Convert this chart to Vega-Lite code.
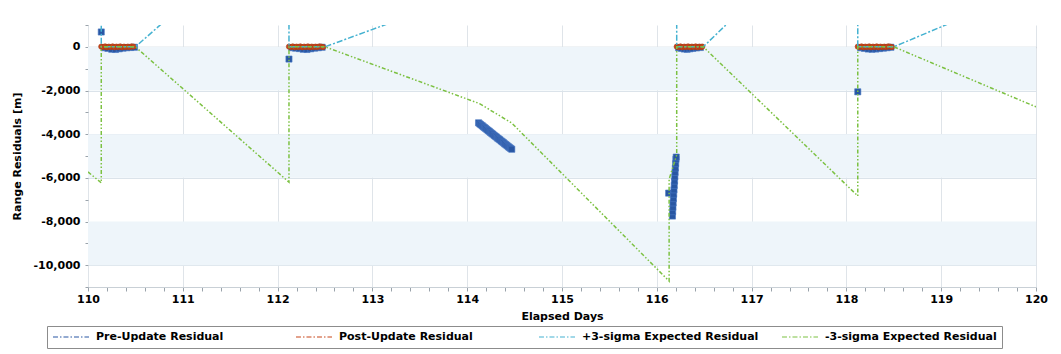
{
  "$schema": "https://vega.github.io/schema/vega-lite/v6.json",
  "width": 948,
  "height": 262,
  "autosize": {"type": "none"},
  "padding": {"left": 88, "top": 25, "right": 25, "bottom": 67},
  "background": "white",
  "config": {
    "view": {"stroke": null},
    "font": "DejaVu Sans",
    "axis": {
      "labelFont": "DejaVu Sans", "labelFontWeight": "bold", "labelFontSize": 11, "labelColor": "#000",
      "titleFont": "DejaVu Sans", "titleFontWeight": "bold", "titleFontSize": 11, "titleColor": "#000",
      "tickColor": "#9aa3ab", "domainColor": "#c9d0d6"
    },
    "legend": {
      "orient": "none", "legendX": -41, "legendY": 301,
      "direction": "horizontal", "columns": 4, "gridAlign": "all", "columnPadding": 22,
      "labelFont": "DejaVu Sans", "labelFontWeight": "bold", "labelFontSize": 11, "labelColor": "#000", "labelLimit": 300, "labelOffset": 6,
      "strokeColor": "#8c8c8c", "padding": 5,
      "symbolStrokeWidth": 1.2, "symbolType": "stroke", "symbolSize": 1300, "symbolDash": [5, 2, 1.5, 2],
      "clipHeight": 12
    }
  },
  "datasets": {
    "bands": [
      {"y": 0, "y2": -2000},
      {"y": -4000, "y2": -6000},
      {"y": -8000, "y2": -10000}
    ],
    "pre": [
      {"x": 110.14, "y": 680, "series": "Pre-Update Residual"},
      {"x": 110.17, "y": -40, "series": "Pre-Update Residual"},
      {"x": 110.21, "y": -70, "series": "Pre-Update Residual"},
      {"x": 110.25, "y": -110, "series": "Pre-Update Residual"},
      {"x": 110.29, "y": -120, "series": "Pre-Update Residual"},
      {"x": 110.33, "y": -90, "series": "Pre-Update Residual"},
      {"x": 110.37, "y": -60, "series": "Pre-Update Residual"},
      {"x": 110.41, "y": -40, "series": "Pre-Update Residual"},
      {"x": 110.45, "y": -30, "series": "Pre-Update Residual"},
      {"x": 110.49, "y": -20, "series": "Pre-Update Residual"},
      {"x": 112.12, "y": -560, "series": "Pre-Update Residual"},
      {"x": 112.15, "y": -40, "series": "Pre-Update Residual"},
      {"x": 112.19, "y": -60, "series": "Pre-Update Residual"},
      {"x": 112.23, "y": -80, "series": "Pre-Update Residual"},
      {"x": 112.27, "y": -110, "series": "Pre-Update Residual"},
      {"x": 112.31, "y": -120, "series": "Pre-Update Residual"},
      {"x": 112.35, "y": -90, "series": "Pre-Update Residual"},
      {"x": 112.39, "y": -60, "series": "Pre-Update Residual"},
      {"x": 112.43, "y": -40, "series": "Pre-Update Residual"},
      {"x": 112.47, "y": -20, "series": "Pre-Update Residual"},
      {"x": 114.12, "y": -3480, "series": "Pre-Update Residual"},
      {"x": 114.133, "y": -3530, "series": "Pre-Update Residual"},
      {"x": 114.145, "y": -3570, "series": "Pre-Update Residual"},
      {"x": 114.158, "y": -3610, "series": "Pre-Update Residual"},
      {"x": 114.17, "y": -3660, "series": "Pre-Update Residual"},
      {"x": 114.183, "y": -3700, "series": "Pre-Update Residual"},
      {"x": 114.195, "y": -3740, "series": "Pre-Update Residual"},
      {"x": 114.208, "y": -3790, "series": "Pre-Update Residual"},
      {"x": 114.22, "y": -3830, "series": "Pre-Update Residual"},
      {"x": 114.233, "y": -3870, "series": "Pre-Update Residual"},
      {"x": 114.245, "y": -3920, "series": "Pre-Update Residual"},
      {"x": 114.258, "y": -3960, "series": "Pre-Update Residual"},
      {"x": 114.27, "y": -4000, "series": "Pre-Update Residual"},
      {"x": 114.283, "y": -4050, "series": "Pre-Update Residual"},
      {"x": 114.295, "y": -4090, "series": "Pre-Update Residual"},
      {"x": 114.308, "y": -4130, "series": "Pre-Update Residual"},
      {"x": 114.32, "y": -4180, "series": "Pre-Update Residual"},
      {"x": 114.333, "y": -4220, "series": "Pre-Update Residual"},
      {"x": 114.345, "y": -4260, "series": "Pre-Update Residual"},
      {"x": 114.358, "y": -4310, "series": "Pre-Update Residual"},
      {"x": 114.37, "y": -4350, "series": "Pre-Update Residual"},
      {"x": 114.383, "y": -4390, "series": "Pre-Update Residual"},
      {"x": 114.395, "y": -4440, "series": "Pre-Update Residual"},
      {"x": 114.408, "y": -4480, "series": "Pre-Update Residual"},
      {"x": 114.42, "y": -4520, "series": "Pre-Update Residual"},
      {"x": 114.433, "y": -4570, "series": "Pre-Update Residual"},
      {"x": 114.445, "y": -4610, "series": "Pre-Update Residual"},
      {"x": 114.458, "y": -4650, "series": "Pre-Update Residual"},
      {"x": 114.47, "y": -4690, "series": "Pre-Update Residual"},
      {"x": 116.125, "y": -6700, "series": "Pre-Update Residual"},
      {"x": 116.165, "y": -7750, "series": "Pre-Update Residual"},
      {"x": 116.167, "y": -7550, "series": "Pre-Update Residual"},
      {"x": 116.17, "y": -7350, "series": "Pre-Update Residual"},
      {"x": 116.172, "y": -7150, "series": "Pre-Update Residual"},
      {"x": 116.175, "y": -6950, "series": "Pre-Update Residual"},
      {"x": 116.178, "y": -6750, "series": "Pre-Update Residual"},
      {"x": 116.181, "y": -6550, "series": "Pre-Update Residual"},
      {"x": 116.184, "y": -6350, "series": "Pre-Update Residual"},
      {"x": 116.187, "y": -6150, "series": "Pre-Update Residual"},
      {"x": 116.19, "y": -5950, "series": "Pre-Update Residual"},
      {"x": 116.193, "y": -5750, "series": "Pre-Update Residual"},
      {"x": 116.196, "y": -5550, "series": "Pre-Update Residual"},
      {"x": 116.199, "y": -5350, "series": "Pre-Update Residual"},
      {"x": 116.202, "y": -5150, "series": "Pre-Update Residual"},
      {"x": 116.205, "y": -5050, "series": "Pre-Update Residual"},
      {"x": 116.23, "y": -40, "series": "Pre-Update Residual"},
      {"x": 116.26, "y": -70, "series": "Pre-Update Residual"},
      {"x": 116.29, "y": -100, "series": "Pre-Update Residual"},
      {"x": 116.32, "y": -110, "series": "Pre-Update Residual"},
      {"x": 116.35, "y": -90, "series": "Pre-Update Residual"},
      {"x": 116.38, "y": -70, "series": "Pre-Update Residual"},
      {"x": 116.42, "y": -50, "series": "Pre-Update Residual"},
      {"x": 116.46, "y": -30, "series": "Pre-Update Residual"},
      {"x": 118.12, "y": -2060, "series": "Pre-Update Residual"},
      {"x": 118.15, "y": -40, "series": "Pre-Update Residual"},
      {"x": 118.19, "y": -70, "series": "Pre-Update Residual"},
      {"x": 118.23, "y": -100, "series": "Pre-Update Residual"},
      {"x": 118.27, "y": -110, "series": "Pre-Update Residual"},
      {"x": 118.31, "y": -100, "series": "Pre-Update Residual"},
      {"x": 118.35, "y": -80, "series": "Pre-Update Residual"},
      {"x": 118.39, "y": -60, "series": "Pre-Update Residual"},
      {"x": 118.43, "y": -40, "series": "Pre-Update Residual"},
      {"x": 118.47, "y": -20, "series": "Pre-Update Residual"}
    ],
    "post": [
      {"x": 110.14, "y": 10, "series": "Post-Update Residual"},
      {"x": 110.16, "y": -10, "series": "Post-Update Residual"},
      {"x": 110.18, "y": 20, "series": "Post-Update Residual"},
      {"x": 110.2, "y": -20, "series": "Post-Update Residual"},
      {"x": 110.22, "y": 10, "series": "Post-Update Residual"},
      {"x": 110.24, "y": -10, "series": "Post-Update Residual"},
      {"x": 110.26, "y": 20, "series": "Post-Update Residual"},
      {"x": 110.28, "y": -20, "series": "Post-Update Residual"},
      {"x": 110.3, "y": 10, "series": "Post-Update Residual"},
      {"x": 110.32, "y": -10, "series": "Post-Update Residual"},
      {"x": 110.34, "y": 20, "series": "Post-Update Residual"},
      {"x": 110.36, "y": -20, "series": "Post-Update Residual"},
      {"x": 110.38, "y": 10, "series": "Post-Update Residual"},
      {"x": 110.4, "y": -10, "series": "Post-Update Residual"},
      {"x": 110.42, "y": 10, "series": "Post-Update Residual"},
      {"x": 110.44, "y": -10, "series": "Post-Update Residual"},
      {"x": 110.46, "y": 20, "series": "Post-Update Residual"},
      {"x": 110.48, "y": 10, "series": "Post-Update Residual"},
      {"x": 112.12, "y": 10, "series": "Post-Update Residual"},
      {"x": 112.14, "y": -10, "series": "Post-Update Residual"},
      {"x": 112.16, "y": 20, "series": "Post-Update Residual"},
      {"x": 112.18, "y": -20, "series": "Post-Update Residual"},
      {"x": 112.2, "y": 10, "series": "Post-Update Residual"},
      {"x": 112.22, "y": -10, "series": "Post-Update Residual"},
      {"x": 112.24, "y": 20, "series": "Post-Update Residual"},
      {"x": 112.26, "y": -20, "series": "Post-Update Residual"},
      {"x": 112.28, "y": 10, "series": "Post-Update Residual"},
      {"x": 112.3, "y": -10, "series": "Post-Update Residual"},
      {"x": 112.32, "y": 20, "series": "Post-Update Residual"},
      {"x": 112.34, "y": -20, "series": "Post-Update Residual"},
      {"x": 112.36, "y": 10, "series": "Post-Update Residual"},
      {"x": 112.38, "y": -10, "series": "Post-Update Residual"},
      {"x": 112.4, "y": 10, "series": "Post-Update Residual"},
      {"x": 112.42, "y": -10, "series": "Post-Update Residual"},
      {"x": 112.44, "y": 20, "series": "Post-Update Residual"},
      {"x": 112.46, "y": 10, "series": "Post-Update Residual"},
      {"x": 112.48, "y": -10, "series": "Post-Update Residual"},
      {"x": 116.21, "y": 10, "series": "Post-Update Residual"},
      {"x": 116.23, "y": -10, "series": "Post-Update Residual"},
      {"x": 116.25, "y": 20, "series": "Post-Update Residual"},
      {"x": 116.27, "y": -20, "series": "Post-Update Residual"},
      {"x": 116.29, "y": 10, "series": "Post-Update Residual"},
      {"x": 116.31, "y": -10, "series": "Post-Update Residual"},
      {"x": 116.33, "y": 20, "series": "Post-Update Residual"},
      {"x": 116.35, "y": -20, "series": "Post-Update Residual"},
      {"x": 116.37, "y": 10, "series": "Post-Update Residual"},
      {"x": 116.39, "y": -10, "series": "Post-Update Residual"},
      {"x": 116.41, "y": 20, "series": "Post-Update Residual"},
      {"x": 116.43, "y": -20, "series": "Post-Update Residual"},
      {"x": 116.45, "y": 10, "series": "Post-Update Residual"},
      {"x": 116.47, "y": -10, "series": "Post-Update Residual"},
      {"x": 116.48, "y": 10, "series": "Post-Update Residual"},
      {"x": 118.12, "y": 10, "series": "Post-Update Residual"},
      {"x": 118.14, "y": -10, "series": "Post-Update Residual"},
      {"x": 118.16, "y": 20, "series": "Post-Update Residual"},
      {"x": 118.18, "y": -20, "series": "Post-Update Residual"},
      {"x": 118.2, "y": 10, "series": "Post-Update Residual"},
      {"x": 118.22, "y": -10, "series": "Post-Update Residual"},
      {"x": 118.24, "y": 20, "series": "Post-Update Residual"},
      {"x": 118.26, "y": -20, "series": "Post-Update Residual"},
      {"x": 118.28, "y": 10, "series": "Post-Update Residual"},
      {"x": 118.3, "y": -10, "series": "Post-Update Residual"},
      {"x": 118.32, "y": 20, "series": "Post-Update Residual"},
      {"x": 118.34, "y": -20, "series": "Post-Update Residual"},
      {"x": 118.36, "y": 10, "series": "Post-Update Residual"},
      {"x": 118.38, "y": -10, "series": "Post-Update Residual"},
      {"x": 118.4, "y": 10, "series": "Post-Update Residual"},
      {"x": 118.42, "y": -10, "series": "Post-Update Residual"},
      {"x": 118.44, "y": 20, "series": "Post-Update Residual"},
      {"x": 118.46, "y": 10, "series": "Post-Update Residual"},
      {"x": 118.48, "y": -10, "series": "Post-Update Residual"}
    ],
    "plus": [
      {"o": 1, "x": 110.0, "y": 5730, "series": "+3-sigma Expected Residual"},
      {"o": 2, "x": 110.14, "y": 6230, "series": "+3-sigma Expected Residual"},
      {"o": 3, "x": 110.14, "y": 0, "series": "+3-sigma Expected Residual"},
      {"o": 4, "x": 110.5, "y": 0, "series": "+3-sigma Expected Residual"},
      {"o": 5, "x": 112.12, "y": 6200, "series": "+3-sigma Expected Residual"},
      {"o": 6, "x": 112.12, "y": 0, "series": "+3-sigma Expected Residual"},
      {"o": 7, "x": 112.5, "y": 0, "series": "+3-sigma Expected Residual"},
      {"o": 8, "x": 114.13, "y": 2600, "series": "+3-sigma Expected Residual"},
      {"o": 9, "x": 114.47, "y": 3490, "series": "+3-sigma Expected Residual"},
      {"o": 10, "x": 116.13, "y": 10730, "series": "+3-sigma Expected Residual"},
      {"o": 11, "x": 116.13, "y": 6060, "series": "+3-sigma Expected Residual"},
      {"o": 12, "x": 116.21, "y": 4950, "series": "+3-sigma Expected Residual"},
      {"o": 13, "x": 116.21, "y": 0, "series": "+3-sigma Expected Residual"},
      {"o": 14, "x": 116.49, "y": 0, "series": "+3-sigma Expected Residual"},
      {"o": 15, "x": 118.12, "y": 6830, "series": "+3-sigma Expected Residual"},
      {"o": 16, "x": 118.12, "y": 0, "series": "+3-sigma Expected Residual"},
      {"o": 17, "x": 118.5, "y": 0, "series": "+3-sigma Expected Residual"},
      {"o": 18, "x": 120.0, "y": 2750, "series": "+3-sigma Expected Residual"}
    ],
    "minus": [
      {"o": 1, "x": 110.0, "y": -5730, "series": "-3-sigma Expected Residual"},
      {"o": 2, "x": 110.14, "y": -6230, "series": "-3-sigma Expected Residual"},
      {"o": 3, "x": 110.14, "y": 0, "series": "-3-sigma Expected Residual"},
      {"o": 4, "x": 110.5, "y": 0, "series": "-3-sigma Expected Residual"},
      {"o": 5, "x": 112.12, "y": -6200, "series": "-3-sigma Expected Residual"},
      {"o": 6, "x": 112.12, "y": 0, "series": "-3-sigma Expected Residual"},
      {"o": 7, "x": 112.5, "y": 0, "series": "-3-sigma Expected Residual"},
      {"o": 8, "x": 114.13, "y": -2600, "series": "-3-sigma Expected Residual"},
      {"o": 9, "x": 114.47, "y": -3490, "series": "-3-sigma Expected Residual"},
      {"o": 10, "x": 116.13, "y": -10730, "series": "-3-sigma Expected Residual"},
      {"o": 11, "x": 116.13, "y": -6060, "series": "-3-sigma Expected Residual"},
      {"o": 12, "x": 116.21, "y": -4950, "series": "-3-sigma Expected Residual"},
      {"o": 13, "x": 116.21, "y": 0, "series": "-3-sigma Expected Residual"},
      {"o": 14, "x": 116.49, "y": 0, "series": "-3-sigma Expected Residual"},
      {"o": 15, "x": 118.12, "y": -6830, "series": "-3-sigma Expected Residual"},
      {"o": 16, "x": 118.12, "y": 0, "series": "-3-sigma Expected Residual"},
      {"o": 17, "x": 118.5, "y": 0, "series": "-3-sigma Expected Residual"},
      {"o": 18, "x": 120.0, "y": -2750, "series": "-3-sigma Expected Residual"}
    ]
  },
  "layer": [
    {
      "data": {"name": "bands"},
      "mark": {"type": "rect", "fill": "#eef5fa"},
      "encoding": {
        "y": {
          "field": "y", "type": "quantitative",
          "scale": {"domain": [-11000, 1000], "nice": false, "zero": false},
          "axis": {
            "title": "Range Residuals [m]",
            "values": [1000, 0, -1000, -2000, -3000, -4000, -5000, -6000, -7000, -8000, -9000, -10000, -11000],
            "tickCount": 200,
            "labelExpr": "datum.value % 2000 === 0 ? replace(format(datum.value, ','), '\u2212', '-') : ''",
            "labelOverlap": false,
            "grid": true,
            "gridColor": {"condition": {"test": "datum.value === 0", "value": "#c3c9cf"}, "value": "#dbe3ea"},
            "gridOpacity": {"condition": {"test": "datum.value % 2000 === 0", "value": 1}, "value": 0},
            "gridWidth": {"condition": {"test": "datum.value === 0", "value": 1.5}, "value": 1},
            "tickSize": 3,
            "labelPadding": 5,
            "domain": false,
            "titleX": -71,
            "titleY": 131,
            "titleAngle": -90,
            "titleBaseline": "middle",
            "titleAlign": "center"
          }
        },
        "y2": {"field": "y2"}
      }
    },
    {
      "data": {"name": "pre"},
      "mark": {"type": "point", "shape": "square", "filled": true, "size": 38, "stroke": "#4a78c4", "strokeWidth": 0.6, "opacity": 1, "clip": true},
      "encoding": {
        "x": {
          "field": "x", "type": "quantitative",
          "scale": {"domain": [110, 120], "nice": false, "zero": false},
          "axis": {
            "title": "Elapsed Days",
            "values": [110, 110.2, 110.4, 110.6, 110.8, 111, 111.2, 111.4, 111.6, 111.8, 112, 112.2, 112.4, 112.6, 112.8, 113, 113.2, 113.4, 113.6, 113.8, 114, 114.2, 114.4, 114.6, 114.8, 115, 115.2, 115.4, 115.6, 115.8, 116, 116.2, 116.4, 116.6, 116.8, 117, 117.2, 117.4, 117.6, 117.8, 118, 118.2, 118.4, 118.6, 118.8, 119, 119.2, 119.4, 119.6, 119.8, 120],
            "tickCount": 200,
            "labelExpr": "abs(datum.value - round(datum.value)) < 0.001 ? format(datum.value, 'd') : ''",
            "labelOverlap": false,
            "labelFlush": false,
            "labelBound": false,
            "grid": true,
            "gridColor": "#dfe4e9",
            "gridOpacity": {"condition": {"test": "abs(datum.value - round(datum.value)) < 0.001", "value": 1}, "value": 0},
            "tickSize": 4,
            "labelPadding": 2,
            "domain": true,
            "titleY": 29,
            "titleBaseline": "middle"
          }
        },
        "y": {"field": "y", "type": "quantitative"},
        "color": {
          "field": "series", "type": "nominal",
          "scale": {
            "domain": ["Pre-Update Residual", "Post-Update Residual", "+3-sigma Expected Residual", "-3-sigma Expected Residual"],
            "range": ["#2856a3", "#c8461a", "#45b2d1", "#7cc142"]
          },
          "legend": {"title": null}
        }
      }
    },
    {
      "data": {"name": "post"},
      "mark": {"type": "point", "shape": "circle", "filled": true, "size": 28, "stroke": "#a83a16", "strokeWidth": 0.6, "opacity": 1, "clip": true},
      "encoding": {
        "x": {"field": "x", "type": "quantitative"},
        "y": {"field": "y", "type": "quantitative"},
        "color": {"field": "series", "type": "nominal", "legend": null}
      }
    },
    {
      "data": {"name": "plus"},
      "mark": {"type": "line", "strokeWidth": 1.5, "strokeDash": [6, 2, 2, 2], "clip": true},
      "encoding": {
        "x": {"field": "x", "type": "quantitative"},
        "y": {"field": "y", "type": "quantitative"},
        "order": {"field": "o", "type": "quantitative"},
        "color": {"field": "series", "type": "nominal", "legend": null}
      }
    },
    {
      "data": {"name": "minus"},
      "mark": {"type": "line", "strokeWidth": 1.5, "strokeDash": [4, 2, 1.5, 2, 1.5, 2], "clip": true},
      "encoding": {
        "x": {"field": "x", "type": "quantitative"},
        "y": {"field": "y", "type": "quantitative"},
        "order": {"field": "o", "type": "quantitative"},
        "color": {"field": "series", "type": "nominal", "legend": null}
      }
    }
  ]
}
